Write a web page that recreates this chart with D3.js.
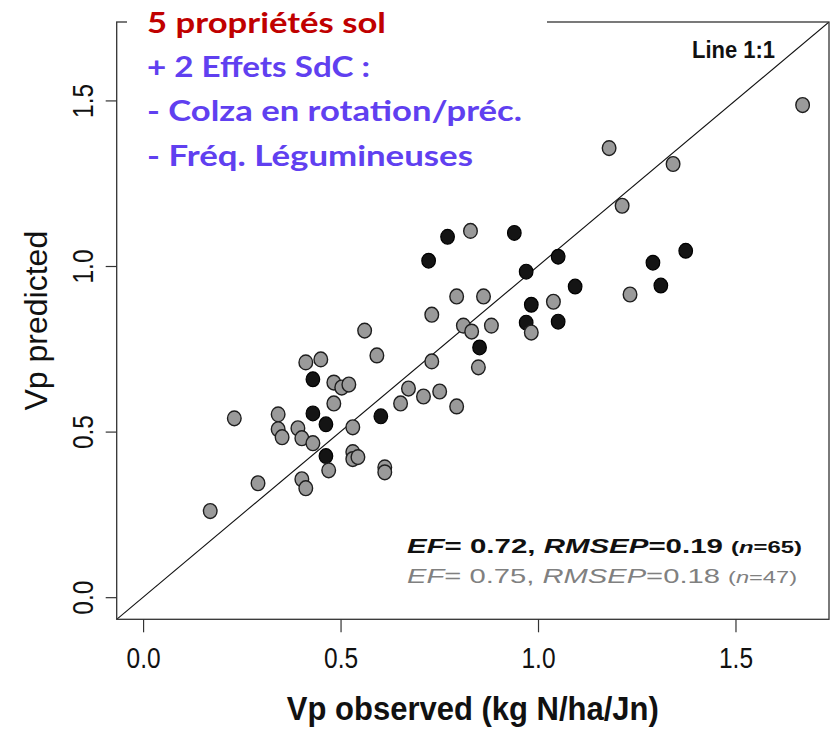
<!DOCTYPE html>
<html>
<head>
<meta charset="utf-8">
<script src="https://cdn.jsdelivr.net/npm/d3@7"></script>
<style>
  html, body { margin: 0; padding: 0; background: #fff; }
  svg { display: block; }
  text { font-family: "Liberation Sans", Arial, sans-serif; }
</style>
</head>
<body>
<svg id="chart" width="836" height="731"></svg>
<script>
// Observed vs predicted Vp (kg N/ha/Jn)
// Full set (black points contribute to n=65) and sub-set (grey, n=47)
const blackObs  = [0.430, 0.430, 0.463, 0.602, 0.463, 0.771, 0.940, 0.723, 1.051, 0.970,
                   1.374, 1.291, 1.311, 1.094, 0.983, 0.970, 1.051, 0.852];
const blackPred = [0.658, 0.555, 0.522, 0.546, 0.426, 1.088, 1.100, 1.016, 1.028, 0.983,
                   1.046, 1.010, 0.941, 0.938, 0.883, 0.829, 0.832, 0.754];

const greyObs  = [0.731, 0.561, 0.592, 0.731, 0.412, 0.450, 0.483, 0.503, 0.521, 0.483,
                  0.231, 0.342, 0.342, 0.352, 0.392, 0.402, 0.430, 0.531, 0.672, 0.652,
                  0.710, 0.751, 0.470, 0.531, 0.531, 0.544, 0.612, 0.612, 0.402, 0.412,
                  0.291, 0.170, 1.213, 0.829, 1.233, 0.794, 0.862, 1.039, 0.983, 0.811,
                  0.832, 0.882, 0.849, 0.794, 1.670, 1.180, 1.342];
const greyPred = [0.853, 0.805, 0.730, 0.712, 0.709, 0.718, 0.648, 0.633, 0.642, 0.585,
                  0.540, 0.552, 0.507, 0.483, 0.510, 0.480, 0.465, 0.513, 0.630, 0.585,
                  0.606, 0.621, 0.383, 0.438, 0.417, 0.423, 0.392, 0.377, 0.356, 0.329,
                  0.344, 0.260, 1.182, 1.106, 0.914, 0.908, 0.908, 0.892, 0.799, 0.820,
                  0.802, 0.820, 0.694, 0.576, 1.486, 1.356, 1.308];

const axisTicks = [0.0, 0.5, 1.0, 1.5];
const axisLimits = [0, 1.67];

const headerLines = ["5 propriétés sol", "+ 2 Effets SdC :", "- Colza en rotation/préc.", "- Fréq. Légumineuses"];
const headerColors = ["#C00000", "#6040F0", "#6040F0", "#6040F0"];

const statsAll = { ef: "0.72", rmsep: "0.19", n: "65" };
const statsSub = { ef: "0.75", rmsep: "0.18", n: "47" };

// ---- layout ----
const box = { left: 116.7, right: 829, top: 22, bottom: 619.3 };
const pad = 0.04 * (axisLimits[1] - axisLimits[0]);
const dom = [axisLimits[0] - pad, axisLimits[1] + pad];

const svg = d3.select("#chart");
const x = d3.scaleLinear().domain(dom).range([box.left, box.right]);
const y = d3.scaleLinear().domain(dom).range([box.bottom, box.top]);

const STRETCH = 1.18; // tall, narrow glyphs of the axis text

svg.append("clipPath").attr("id", "plotclip")
  .append("rect")
  .attr("x", box.left).attr("y", box.top)
  .attr("width", box.right - box.left).attr("height", box.bottom - box.top);

// 1:1 line
svg.append("line")
  .attr("clip-path", "url(#plotclip)")
  .attr("x1", x(dom[0])).attr("y1", y(dom[0]))
  .attr("x2", x(dom[1])).attr("y2", y(dom[1]))
  .attr("stroke", "#111").attr("stroke-width", 1.1);

// points: black first, grey on top
const pts = svg.append("g").attr("clip-path", "url(#plotclip)");
pts.selectAll("ellipse.blk")
  .data(d3.zip(blackObs, blackPred))
  .join("ellipse").attr("class", "blk")
  .attr("cx", d => x(d[0])).attr("cy", d => y(d[1]))
  .attr("rx", 6.8).attr("ry", 7.4)
  .attr("fill", "#141414").attr("stroke", "#000").attr("stroke-width", 1.2);
pts.selectAll("ellipse.gry")
  .data(d3.zip(greyObs, greyPred))
  .join("ellipse").attr("class", "gry")
  .attr("cx", d => x(d[0])).attr("cy", d => y(d[1]))
  .attr("rx", 6.8).attr("ry", 7.4)
  .attr("fill", "#9a9a9a").attr("stroke", "#1e1e1e").attr("stroke-width", 1.4);

// plot frame
svg.append("rect")
  .attr("x", box.left).attr("y", box.top)
  .attr("width", box.right - box.left).attr("height", box.bottom - box.top)
  .attr("fill", "none").attr("stroke", "#333").attr("stroke-width", 1.3);

// x axis
const gx = svg.append("g")
  .attr("transform", `translate(0,${box.bottom})`)
  .call(d3.axisBottom(x).tickValues(axisTicks).tickFormat(d3.format(".1f")).tickSize(13).tickSizeOuter(0));
gx.select(".domain").remove();
gx.selectAll(".tick line").attr("stroke", "#333").attr("stroke-width", 1.2);
gx.selectAll(".tick text")
  .attr("y", 48.7 / STRETCH).attr("dy", 0)
  .attr("transform", `scale(1,${STRETCH})`)
  .attr("fill", "#111")
  .style("font-size", "24.5px")
  .style("font-family", "'Liberation Sans', Arial, sans-serif");

// y axis
const gy = svg.append("g")
  .attr("transform", `translate(${box.left},0)`)
  .call(d3.axisLeft(y).tickValues(axisTicks).tickFormat(d3.format(".1f")).tickSize(11).tickSizeOuter(0));
gy.select(".domain").remove();
gy.selectAll(".tick line").attr("stroke", "#333").attr("stroke-width", 1.2);
gy.selectAll(".tick text")
  .attr("x", 0).attr("y", -23.7 / STRETCH).attr("dy", 0)
  .attr("text-anchor", "middle")
  .attr("transform", `rotate(-90) scale(1,${STRETCH})`)
  .attr("fill", "#111")
  .style("font-size", "24.5px")
  .style("font-family", "'Liberation Sans', Arial, sans-serif");

// axis titles
svg.append("text")
  .attr("transform", `translate(${(box.left + box.right) / 2},720) scale(1,1.1)`)
  .attr("text-anchor", "middle")
  .attr("font-weight", "bold")
  .attr("font-size", 31)
  .attr("fill", "#111")
  .text("Vp observed (kg N/ha/Jn)");

svg.append("text")
  .attr("transform", `translate(47,${(box.top + box.bottom) / 2}) rotate(-90)`)
  .attr("text-anchor", "middle")
  .attr("font-size", 32)
  .attr("fill", "#111")
  .text("Vp predicted");

// 1:1 line label
svg.append("text")
  .attr("transform", `translate(692,58) scale(1,${STRETCH})`)
  .attr("font-weight", "bold")
  .attr("font-size", 21)
  .attr("textLength", 83).attr("lengthAdjust", "spacingAndGlyphs")
  .attr("fill", "#111")
  .text("Line 1:1");

// fit statistics
function statLine(s, base, color, weight, len) {
  const t = svg.append("text")
    .attr("x", 407).attr("y", base)
    .attr("font-size", 21).attr("font-weight", weight)
    .attr("fill", color)
    .attr("textLength", len).attr("lengthAdjust", "spacingAndGlyphs");
  t.append("tspan").attr("font-style", "italic").text("EF");
  t.append("tspan").text("= " + s.ef + ", ");
  t.append("tspan").attr("font-style", "italic").text("RMSEP");
  t.append("tspan").text("=" + s.rmsep + " ");
  const sm = t.append("tspan").attr("font-size", 17);
  sm.append("tspan").text("(");
  sm.append("tspan").attr("font-style", "italic").text("n");
  sm.append("tspan").text("=" + s.n + ")");
}
statLine(statsAll, 553, "#111", "bold", 395);
statLine(statsSub, 583, "#808080", "normal", 390);

// header box over the top frame
svg.append("rect")
  .attr("x", 127).attr("y", 0).attr("width", 420).attr("height", 178)
  .attr("fill", "#fff");

const headerBase = [33, 77, 121, 166];
const headerLen = [239, 223, 375, 326];
svg.selectAll("text.hdr")
  .data(headerLines)
  .join("text").attr("class", "hdr")
  .attr("x", 147)
  .attr("y", (d, i) => headerBase[i])
  .attr("font-size", 29)
  .attr("font-weight", "bold")
  .style("font-family", "Lato, 'Open Sans', sans-serif")
  .attr("fill", (d, i) => headerColors[i])
  .attr("textLength", (d, i) => headerLen[i])
  .attr("lengthAdjust", "spacingAndGlyphs")
  .text(d => d);
</script>
</body>
</html>
